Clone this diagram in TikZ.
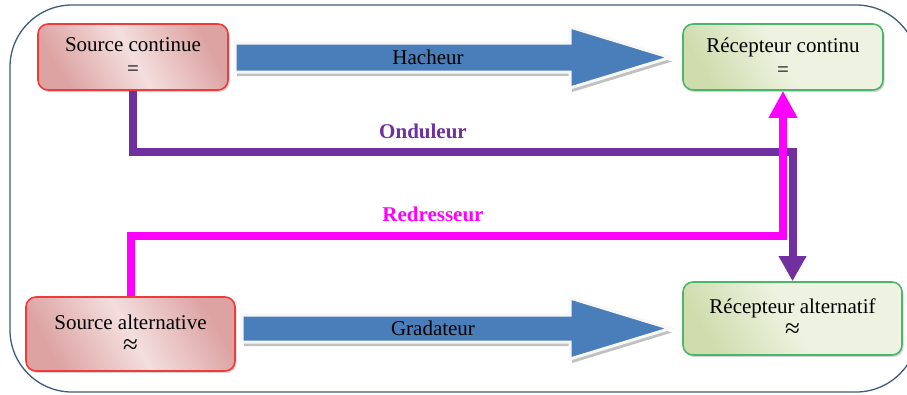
\documentclass[tikz,border=0pt]{standalone}
\usepackage{fontspec}
\setmainfont{Liberation Serif}
\usetikzlibrary{arrows.meta,shadows,calc}
\definecolor{framec}{HTML}{3E5C7A}
\definecolor{arrowblue}{HTML}{4A7EBB}
\definecolor{ondc}{HTML}{7030A0}
\definecolor{redc}{HTML}{FF00FF}
\definecolor{srcborder}{HTML}{EE3B3B}
\definecolor{srcdark}{HTML}{DDA2A2}
\definecolor{srclight}{HTML}{F4DEDE}
\definecolor{recborder}{HTML}{4CB56C}
\definecolor{recdark}{HTML}{CFDDAE}
\definecolor{reclight}{HTML}{EEF3E1}
\newcommand{\approxsym}{{\fontsize{27}{23}\selectfont ≈}}
\tikzset{
  txt/.style={font=\fontsize{21}{24}\selectfont, align=center},
  srcbox/.style={txt, draw=srcborder, line width=1.6pt, rounded corners=10pt,
    left color=srcdark, right color=srcdark, middle color=srclight, shading angle=120,
    drop shadow={shadow xshift=1.5pt, shadow yshift=-2pt, opacity=0.35}, inner sep=0pt},
  recbox/.style={txt, draw=recborder, line width=1.6pt, rounded corners=10pt,
    left color=recdark, right color=reclight, middle color=reclight, shading angle=120,
    drop shadow={shadow xshift=1.5pt, shadow yshift=-2pt, opacity=0.35}, inner sep=0pt},
  bigarrow/.style={fill=arrowblue, draw=white!94!gray, line width=3pt, line join=miter},
  arrowshadow/.style={fill=gray!70, opacity=0.7},
  lbl/.style={font=\fontsize{21}{23}\selectfont\bfseries},
  ondline/.style={draw=ondc, line width=8pt, -{Triangle[width=26pt,length=25pt]}},
  redline/.style={draw=redc, line width=8pt, -{Triangle[width=27pt,length=27pt]}},
}
\begin{document}
\begin{tikzpicture}[x=1pt,y=-1pt]
\useasboundingbox (0,0) rectangle (907,394);
\draw[framec, line width=1.3pt, rounded corners=62pt] (10,5) rectangle (918,392);

% boxes
\node[srcbox, minimum width=190pt, minimum height=66pt] (sc) at (133,57) {Source continue\\=};
\node[recbox, minimum width=200pt, minimum height=66pt] (rc) at (783,57) {Récepteur continu\\=};
\node[srcbox, minimum width=209pt, minimum height=74pt] (sa) at (130.5,334) {Source alternative\\\approxsym};
\node[recbox, minimum width=219pt, minimum height=73pt] (ra) at (792.5,318.5) {Récepteur alternatif\\\approxsym};

% Hacheur block arrow
\fill[arrowshadow] (237,47) -- (572,47) -- (572,31) -- (672,61.5) -- (572,92) -- (572,76) -- (237,76) -- cycle;
\filldraw[bigarrow] (235,43) -- (570,43) -- (570,27) -- (670,57.5) -- (570,88) -- (570,72) -- (235,72) -- cycle;
\node[txt] (hach) at (428,57.5) {Hacheur};

% Gradateur block arrow
\fill[arrowshadow] (244,319) -- (572,319) -- (572,302) -- (672,332.5) -- (572,363) -- (572,346) -- (244,346) -- cycle;
\filldraw[bigarrow] (242,315) -- (570,315) -- (570,298) -- (670,328.5) -- (570,359) -- (570,342) -- (242,342) -- cycle;
\node[txt] (grad) at (433,328.5) {Gradateur};

% Onduleur
\coordinate (ondturn) at (792.5,152);
\draw[ondline] (sc.south) |- (ondturn) -- (ra.north);
\node[lbl, text=ondc] (ond) at (423,131) {Onduleur};

% Redresseur
\coordinate (redturn) at (783,236);
\draw[redline] (sa.north) |- (redturn) -- (rc.south);
\node[lbl, text=redc] (red) at (433,214) {Redresseur};
\end{tikzpicture}
\end{document}
